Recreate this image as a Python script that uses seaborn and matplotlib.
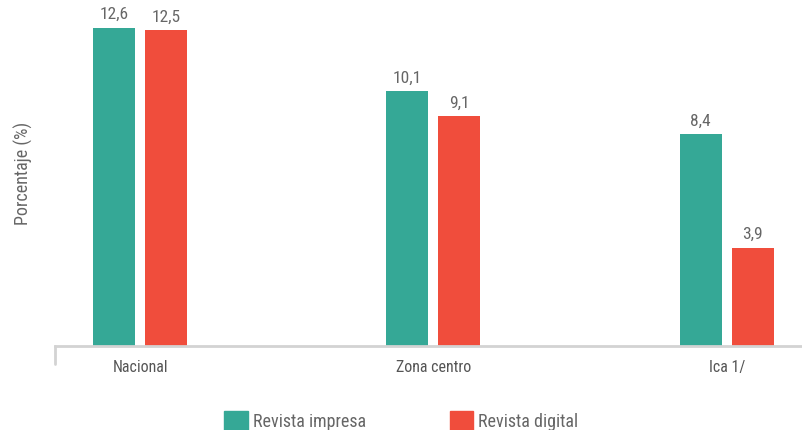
import pandas as pd
import matplotlib.pyplot as plt
import seaborn as sns
from matplotlib import font_manager

# --- DATOS ---
CATEGORIAS = ["Nacional", "Zona centro", "Ica 1/"]
SERIES = ["Revista impresa", "Revista digital"]
IMPRESA = [12.6, 10.1, 8.4]
DIGITAL = [12.5, 9.1, 3.9]
COLORES = ["#35A896", "#F04D3C"]

# fuente condensada si existe
disponibles = {f.name for f in font_manager.fontManager.ttflist}
fuente = "DejaVu Sans"
for cand in ["Roboto Condensed", "Liberation Sans Narrow", "Open Sans Condensed", "Noto Sans"]:
    if cand in disponibles:
        fuente = cand
        break

df = pd.DataFrame({
    "Categoria": CATEGORIAS * 2,
    "Serie": [SERIES[0]] * 3 + [SERIES[1]] * 3,
    "Valor": IMPRESA + DIGITAL,
})

sns.set_style("white")
plt.rcParams["font.family"] = [fuente, "DejaVu Sans"]
gris = "#666666"

fig = plt.figure(figsize=(8.03, 4.30), dpi=100)
ax = fig.add_axes([0.0685, 0.195, 0.9315, 0.805])

sns.barplot(data=df, x="Categoria", y="Valor", hue="Serie", hue_order=SERIES,
            palette=COLORES, width=0.354, gap=0.19, ax=ax, legend=False,
            saturation=1, linewidth=0)

for cont in ax.containers:
    ax.bar_label(cont, labels=[f"{v:.1f}".replace(".", ",") for v in cont.datavalues],
                 padding=4, fontsize=12.5, color=gris)

ax.set_xlim(-0.29, 2.26)
ax.set_ylim(0, 13.7)
ax.set_yticks([])
ax.set_xlabel("")
ax.set_ylabel("Porcentaje (%)", fontsize=13, color=gris, labelpad=16)
ax.tick_params(axis="x", length=0, pad=10, labelsize=11.5, labelcolor="#555555")
for s in ["top", "right", "left"]:
    ax.spines[s].set_visible(False)
ax.spines["bottom"].set_color("#d3d3d3")
ax.spines["bottom"].set_linewidth(2)
# pequeña marca a la izquierda del eje
ax.plot([-0.29, -0.29], [0, -0.7], color="#d3d3d3", lw=2, clip_on=False)

handles = [plt.Rectangle((0, 0), 1, 1, color=c) for c in COLORES]
fig.legend(handles, SERIES, loc="lower center", bbox_to_anchor=(0.5, -0.04), ncol=2,
           frameon=False, fontsize=13, labelcolor=gris, handlelength=1.3, handleheight=1.3,
           handletextpad=0.3, columnspacing=4.6)

plt.savefig("out.png", dpi=100)
